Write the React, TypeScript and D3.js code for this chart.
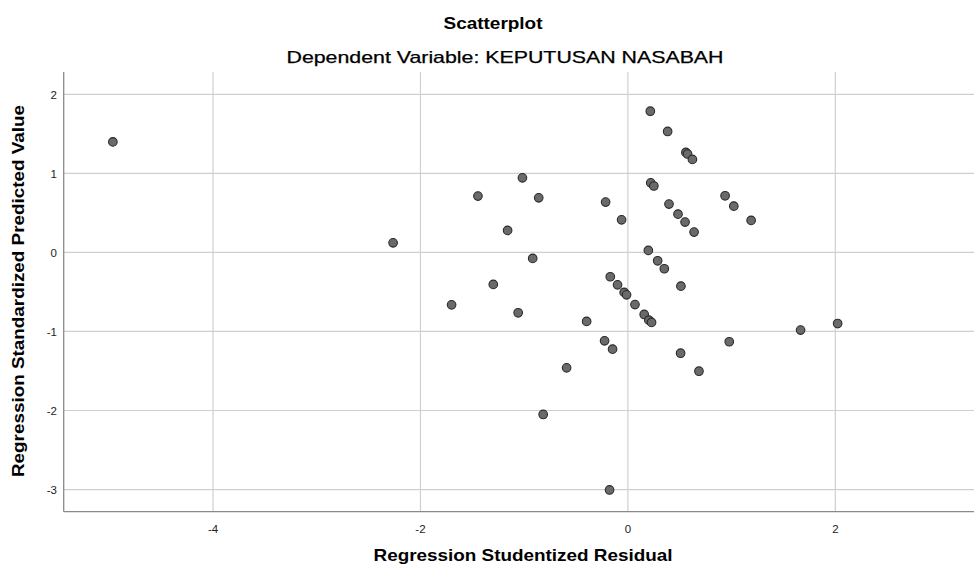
import React from "react";
import * as d3 from "d3";

const residuals: number[] = [
  -4.966, -2.264, -1.7, -1.446, -1.298, -1.16, -1.058, -1.017, -0.918, -0.86,
  -0.817, -0.591, -0.398, -0.225, -0.215, -0.177, -0.17, -0.148, -0.1, -0.061,
  -0.036, -0.013, 0.068, 0.157, 0.197, 0.202, 0.216, 0.228, 0.22, 0.25,
  0.287, 0.351, 0.383, 0.396, 0.483, 0.508, 0.511, 0.551, 0.559, 0.575,
  0.622, 0.638, 0.685, 0.937, 0.977, 1.021, 1.188, 1.665, 2.022,
];
const predicted: number[] = [
  1.398, 0.121, -0.663, 0.712, -0.405, 0.278, -0.764, 0.943, -0.076, 0.69,
  -2.05, -1.46, -0.873, -1.119, 0.636, -3.005, -0.308, -1.224, -0.41, 0.412,
  -0.506, -0.537, -0.66, -0.785, 0.025, -0.857, 1.786, -0.886, 0.88, 0.84,
  -0.106, -0.207, 1.53, 0.611, 0.484, -1.275, -0.427, 0.383, 1.265, 1.245,
  1.176, 0.257, -1.503, 0.716, -1.13, 0.585, 0.405, -0.983, -0.9,
];
const xTicks: number[] = [-4, -2, 0, 2];
const yTicks: number[] = [2, 1, 0, -1, -2, -3];

const title = "Scatterplot";
const subtitle = "Dependent Variable: KEPUTUSAN NASABAH";
const xLabel = "Regression Studentized Residual";
const yLabel = "Regression Standardized Predicted Value";

export default function App() {
  const W = 974;
  const H = 570;
  const left = 63.7;
  const right = 974;
  const top = 72;
  const bottom = 511.7;
  const x = d3.scaleLinear().domain([-5.44, 3.337]).range([left, right]);
  const y = d3.scaleLinear().domain([-3.28, 2.282]).range([bottom, top]);
  const font = "'Liberation Sans', Arial, sans-serif";
  return (
    <svg
      width={W}
      height={H}
      style={{ position: "absolute", left: 0, top: 0, background: "#fff" }}
      fontFamily={font}
    >
      <rect x={0} y={0} width={W} height={H} fill="#fff" />
      {xTicks.map((t) => (
        <line key={"gx" + t} x1={x(t)} x2={x(t)} y1={top} y2={bottom} stroke="#cfcfcf" strokeWidth={1.2} />
      ))}
      {yTicks.map((t) => (
        <line key={"gy" + t} x1={left} x2={right} y1={y(t)} y2={y(t)} stroke="#cfcfcf" strokeWidth={1.2} />
      ))}
      <line x1={left} x2={left} y1={top} y2={bottom} stroke="#8a8a8a" strokeWidth={1.3} />
      <line x1={left} x2={right} y1={bottom} y2={bottom} stroke="#8a8a8a" strokeWidth={1.3} />
      {xTicks.map((t) => (
        <text key={"tx" + t} x={x(t)} y={533} textAnchor="middle" fontSize={11.5} fill="#222">
          {t}
        </text>
      ))}
      {yTicks.map((t) => (
        <text key={"ty" + t} x={57} y={y(t) + 4.5} textAnchor="end" fontSize={11.5} fill="#222">
          {t}
        </text>
      ))}
      {residuals.map((r, i) => (
        <circle
          key={i}
          cx={x(r)}
          cy={y(predicted[i])}
          r={4.3}
          fill="#6a6a6a"
          stroke="#2a2a2a"
          strokeWidth={1.1}
        />
      ))}
      <text
        x={493}
        y={29}
        textAnchor="middle"
        fontSize={17}
        fontWeight="bold"
        fill="#000"
        textLength={99}
        lengthAdjust="spacingAndGlyphs"
      >
        {title}
      </text>
      <text
        x={505}
        y={63}
        textAnchor="middle"
        fontSize={16.5}
        fill="#000"
        stroke="#000"
        strokeWidth={0.25}
        textLength={437}
        lengthAdjust="spacingAndGlyphs"
      >
        {subtitle}
      </text>
      <text
        x={523}
        y={561}
        textAnchor="middle"
        fontSize={16.5}
        fontWeight="bold"
        fill="#000"
        textLength={299}
        lengthAdjust="spacingAndGlyphs"
      >
        {xLabel}
      </text>
      <text
        transform={`translate(24, ${291}) rotate(-90)`}
        textAnchor="middle"
        fontSize={17}
        fontWeight="bold"
        fill="#000"
        textLength={372}
        lengthAdjust="spacingAndGlyphs"
      >
        {yLabel}
      </text>
    </svg>
  );
}
